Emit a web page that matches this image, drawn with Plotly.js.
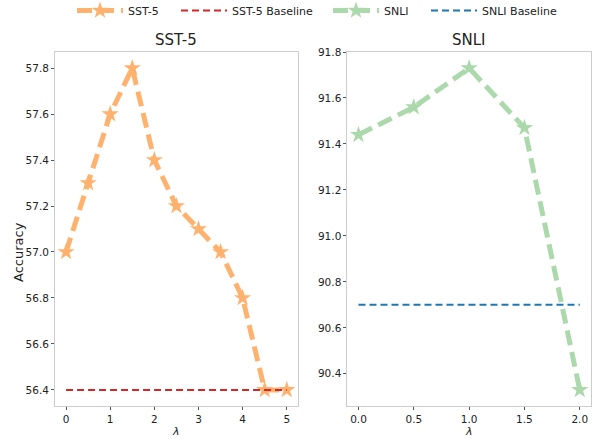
<!DOCTYPE html>
<html><head><meta charset="utf-8">
<script src="https://cdn.plot.ly/plotly-3.0.1.min.js"></script>
<style>html,body{margin:0;padding:0;background:#fff}#c{width:598px;height:439px}</style>
</head><body><div id="c"></div>
<script>
const sstLambda = [0, 0.5, 1, 1.5, 2, 2.5, 3, 3.5, 4, 4.5, 5];
const sstAcc = [57.0, 57.3, 57.6, 57.8, 57.4, 57.2, 57.1, 57.0, 56.8, 56.4, 56.4];
const sstBaseline = 56.4;
const snliLambda = [0, 0.5, 1, 1.5, 2];
const snliAcc = [91.44, 91.56, 91.73, 91.47, 90.33];
const snliBaseline = 90.7;

const orange = 'rgb(255,178,110)';
const green = 'rgb(171,217,171)';
const font = 'DejaVu Sans, sans-serif';

const traces = [
  {x: sstLambda, y: sstAcc, name: 'SST-5', mode: 'lines+markers', xaxis: 'x', yaxis: 'y', legend: 'legend',
   line: {color: orange, width: 5, dash: '15px,7px'}, marker: {symbol: 'star', size: 13, color: orange}},
  {x: [sstLambda[0], sstLambda[sstLambda.length-1]], y: [sstBaseline, sstBaseline], name: 'SST-5 Baseline', mode: 'lines', xaxis: 'x', yaxis: 'y', legend: 'legend2',
   line: {color: '#d62728', width: 2, dash: '7px,4px'}},
  {x: snliLambda, y: snliAcc, name: 'SNLI', mode: 'lines+markers', xaxis: 'x2', yaxis: 'y2', legend: 'legend3',
   line: {color: green, width: 5, dash: '15px,7px'}, marker: {symbol: 'star', size: 13, color: green}},
  {x: [snliLambda[0], snliLambda[snliLambda.length-1]], y: [snliBaseline, snliBaseline], name: 'SNLI Baseline', mode: 'lines', xaxis: 'x2', yaxis: 'y2', legend: 'legend4',
   line: {color: '#1f77b4', width: 2, dash: '7px,4px'}}
];

const ax = {showline: true, mirror: true, linecolor: '#cccccc', linewidth: 1, showgrid: false, zeroline: false,
  ticks: 'outside', ticklen: 3, tickcolor: '#555', tickfont: {family: font, size: 10.5, color: '#222'}};

function leg(px) {
  return {orientation: 'h', x: (px - 5) / 598, xanchor: 'left', y: 1 + 4/439, yanchor: 'top',
    font: {family: font, size: 11}, itemwidth: 46, bgcolor: 'rgba(0,0,0,0)'};
}

const layout = {
  width: 598, height: 439, margin: {l: 0, r: 0, t: 0, b: 0, autoexpand: false},
  paper_bgcolor: '#fff', plot_bgcolor: '#fff', font: {family: font, color: '#222'},
  showlegend: true,
  legend: leg(77), legend2: leg(181), legend3: leg(333), legend4: leg(431),
  xaxis: Object.assign({}, ax, {domain: [0.092, 0.498], range: [-0.25, 5.25], dtick: 1, anchor: 'y', ticklabelstandoff: 0}),
  yaxis: Object.assign({}, ax, {domain: [0.0752, 0.8815], range: [56.33, 57.87], dtick: 0.2, tickformat: '.1f', anchor: 'x'}),
  xaxis2: Object.assign({}, ax, {domain: [0.581, 0.988], range: [-0.1, 2.1], dtick: 0.5, tickformat: '.1f', anchor: 'y2', ticklabelstandoff: 0}),
  yaxis2: Object.assign({}, ax, {domain: [0.0752, 0.8815], range: [90.26, 91.8], dtick: 0.2, tickformat: '.1f', anchor: 'x2'}),
  annotations: [
    {text: 'SST-5', xref: 'paper', yref: 'paper', x: 0.295, y: 0.8815, yshift: 1, xanchor: 'center', yanchor: 'bottom', showarrow: false, font: {family: font, size: 15}},
    {text: 'SNLI', xref: 'paper', yref: 'paper', x: 0.7845, y: 0.8815, yshift: 1, xanchor: 'center', yanchor: 'bottom', showarrow: false, font: {family: font, size: 15}},
    {text: '<i>λ</i>', xref: 'paper', yref: 'paper', x: 0.295, y: 1 - 431/439, xanchor: 'center', yanchor: 'middle', showarrow: false, borderpad: 0, font: {family: font, size: 11}},
    {text: '<i>λ</i>', xref: 'paper', yref: 'paper', x: 0.7845, y: 1 - 431/439, xanchor: 'center', yanchor: 'middle', showarrow: false, borderpad: 0, font: {family: font, size: 11}},
    {text: 'Accuracy', xref: 'paper', yref: 'paper', x: 18/598, y: 1 - 252/439, xanchor: 'center', yanchor: 'middle', textangle: -90, showarrow: false, font: {family: font, size: 13}}
  ]
};

Plotly.newPlot('c', traces, layout, {displayModeBar: false, staticPlot: true});
</script></body></html>
